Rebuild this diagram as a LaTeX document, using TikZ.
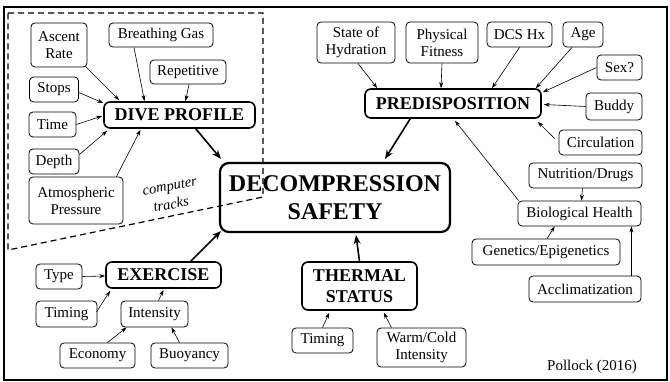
\documentclass[tikz,border=0pt]{standalone}
\usepackage{fontspec}
\setmainfont{Liberation Serif}
\usetikzlibrary{arrows.meta,calc}
\tikzset{
 sbox/.style={draw, rounded corners=4pt, line width=0.8pt, font=\fontsize{15}{17}\selectfont, align=center, inner sep=1pt},
 bbox/.style={draw, rounded corners=6pt, line width=1.6pt, font=\fontsize{18}{21}\selectfont\bfseries, align=center, inner sep=1pt},
 note/.style={font=\fontsize{14.5}{16}\selectfont\itshape, rotate=10, inner sep=0pt},
 arr/.style={-{Stealth[length=6pt,width=4pt]}, line width=0.6pt},
 tarr/.style={-{Stealth[length=9pt,width=7pt]}, line width=1.6pt},
}
\begin{document}
\begin{tikzpicture}[x=1pt,y=-1pt]
\useasboundingbox (0,0) rectangle (670,382);
\draw[line width=1.8pt] (4,7) rectangle (667,380);
\draw[line width=1.2pt, dash pattern=on 6pt off 4pt] (8,13) -- (263,13) -- (263,197) -- (8,250) -- cycle;
% dive profile cluster
\node[sbox, minimum width=56, minimum height=44] (ascent) at (59,45) {Ascent\\Rate};
\node[sbox, minimum width=104, minimum height=24] (gas) at (161,35) {Breathing Gas};
\node[sbox, minimum width=76, minimum height=24] (rep) at (188,72) {Repetitive};
\node[sbox, minimum width=49, minimum height=25] (stops) at (54,89.5) {Stops};
\node[sbox, minimum width=47, minimum height=25] (time) at (52.5,124.5) {Time};
\node[sbox, minimum width=50, minimum height=25] (depth) at (54,161.5) {Depth};
\node[sbox, minimum width=94, minimum height=47] (atm) at (76,200.5) {Atmospheric\\Pressure};
\node[bbox, minimum width=151, minimum height=26] (dp) at (179.5,115) {DIVE PROFILE};
\node[note] (ct1) at (170,188) {computer};
\node[note] (ct2) at (171,204) {tracks};
% center
\node[draw, rounded corners=9pt, line width=2.2pt, minimum width=230, minimum height=69, font=\fontsize{24}{28}\selectfont\bfseries, align=center, inner sep=1pt] (dec) at (335,197.5) {DECOMPRESSION\\SAFETY};
% predisposition cluster
\node[bbox, minimum width=176, minimum height=29] (pre) at (453,103.5) {PREDISPOSITION};
\node[sbox, minimum width=78, minimum height=41] (hyd) at (356,42.5) {State of\\Hydration};
\node[sbox, minimum width=72, minimum height=41] (fit) at (442,42.5) {Physical\\Fitness};
\node[sbox, minimum width=65, minimum height=25] (dcs) at (519.5,34.5) {DCS Hx};
\node[sbox, minimum width=40, minimum height=25] (age) at (583,34.5) {Age};
\node[sbox, minimum width=45, minimum height=25] (sex) at (619.5,67.5) {Sex?};
\node[sbox, minimum width=56, minimum height=27] (buddy) at (614,106.5) {Buddy};
\node[sbox, minimum width=83, minimum height=25] (circ) at (600.5,142.5) {Circulation};
\node[sbox, minimum width=113, minimum height=25] (nut) at (585.5,175.5) {Nutrition/Drugs};
\node[sbox, minimum width=123, minimum height=25] (bio) at (579.5,213.5) {Biological Health};
\node[sbox, minimum width=148, minimum height=26] (gen) at (546,252) {Genetics/Epigenetics};
\node[sbox, minimum width=112, minimum height=26] (acc) at (585,289) {Acclimatization};
% thermal
\node[bbox, minimum width=115, minimum height=48] (th) at (359.5,286) {THERMAL\\STATUS};
\node[sbox, minimum width=61, minimum height=25] (ttim) at (322.5,340.5) {Timing};
\node[sbox, minimum width=89, minimum height=39] (warm) at (421.5,347.5) {Warm/Cold\\Intensity};
\node[font=\fontsize{15}{17}\selectfont] (pol) at (592,367) {Pollock (2016)};
% exercise
\node[bbox, minimum width=115, minimum height=26] (ex) at (163.5,275) {EXERCISE};
\node[sbox, minimum width=46, minimum height=25] (type) at (59,276.5) {Type};
\node[sbox, minimum width=61, minimum height=26] (etim) at (66.5,314) {Timing};
\node[sbox, minimum width=67, minimum height=26] (int) at (154.5,314) {Intensity};
\node[sbox, minimum width=75, minimum height=25] (eco) at (97.5,355.5) {Economy};
\node[sbox, minimum width=77, minimum height=25] (buoy) at (189.5,355.5) {Buoyancy};
% arrows dive profile
\draw[arr] ($(ascent.south east)+(-2,-1)$) -- ($(dp.north west)+(16,-1)$);
\draw[arr] ($(gas.south)+(-27,0)$) -- ($(dp.north)+(-35,0)$);
\draw[arr] ($(rep.south)+(1,0)$) -- ($(dp.north)+(6,0)$);
\draw[arr] ($(stops.east)+(0,3)$) -- ($(dp.west)+(0,-12)$);
\draw[arr] (time.east) -- ($(dp.west)+(-1,1)$);
\draw[arr] ($(depth.east)+(0,-7)$) -- ($(dp.south west)+(4,2)$);
\draw[arr] ($(atm.north east)+(-7,0)$) -- ($(dp.south)+(-39,1)$);
\draw[tarr] ($(dp.south east)+(-60,0)$) -- ($(dec.north west)+(2,-3)$);
% predisposition arrows
\draw[arr] ($(hyd.south)+(2,0)$) -- ($(pre.north west)+(13,0)$);
\draw[arr] (fit.south) -- ($(pre.north)+(-12,0)$);
\draw[arr] (dcs.south) -- ($(pre.north)+(39,0)$);
\draw[arr] ($(age.south)+(-11,0)$) -- ($(pre.north east)+(-6,0)$);
\draw[arr] (sex.west) -- ($(pre.north east)+(1,4)$);
\draw[arr] (buddy.west) -- ($(pre.east)+(2,1)$);
\draw[arr] ($(circ.west)+(-4,-4)$) -- ($(pre.south east)+(-4,3)$);
\draw[arr] ($(bio.north west)+(1,0)$) -- ($(pre.south)+(2,2)$);
\draw[tarr] ($(pre.south west)+(46,0)$) -- ($(dec.north)+(50,-3)$);
\draw[arr] ($(nut.south)+(-3,0)$) -- ($(bio.north)+(2,0)$);
\draw[arr] ($(gen.north)+(1,0)$) -- ($(bio.south west)+(37,0)$);
\draw[arr] ($(acc.north east)+(-10,0)$) -- ($(bio.south east)+(-10,0)$);
% thermal arrows
\draw[tarr] (th.north) -- ($(dec.south)+(21,2)$);
\draw[arr] ($(ttim.north)+(0,0)$) -- ($(th.south west)+(28,2)$);
\draw[arr] ($(warm.north)+(-30,0)$) -- ($(th.south east)+(-34,2)$);
% exercise arrows
\draw[tarr] ($(ex.north east)+(-31,0)$) -- ($(dec.south west)+(2,-2)$);
\draw[arr] (type.east) -- ($(ex.west)+(0,1)$);
\draw[arr] ($(etim.east)+(-1,-2)$) -- ($(ex.south west)+(5,2)$);
\draw[arr] ($(int.north)+(4,0)$) -- ($(ex.south)+(0,1)$);
\draw[arr] ($(eco.north)+(10,0)$) -- ($(int.south west)+(6,0)$);
\draw[arr] ($(buoy.north)+(-10,0)$) -- ($(int.south east)+(-17,0)$);
\end{tikzpicture}
\end{document}
